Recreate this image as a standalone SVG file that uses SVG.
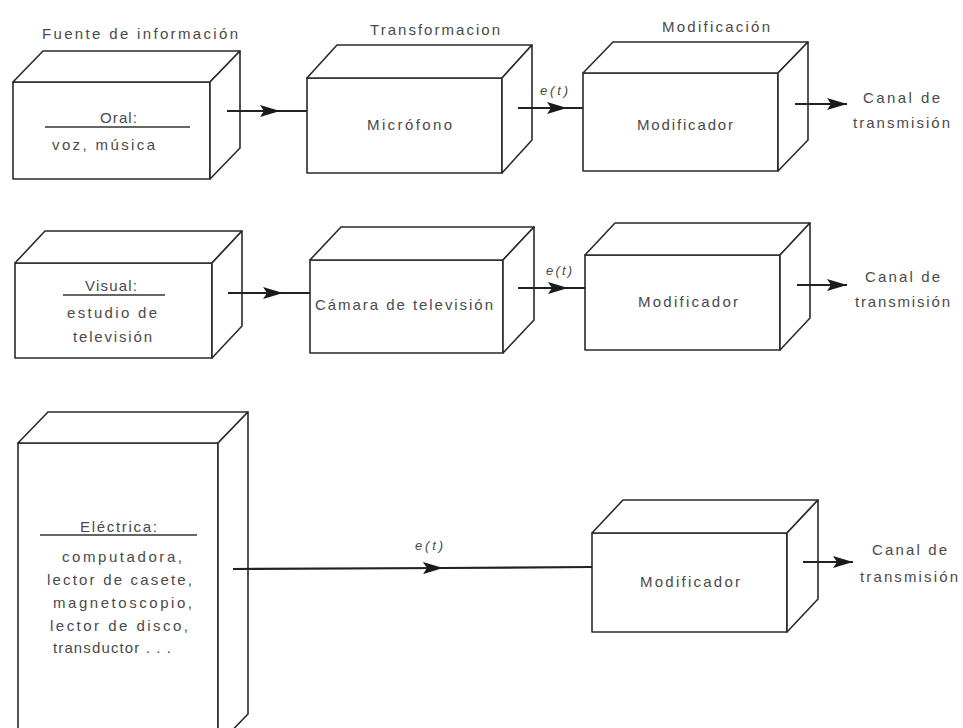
<svg xmlns="http://www.w3.org/2000/svg" width="963" height="728" viewBox="0 0 963 728">
<defs>
<style>
.box{fill:#fff;stroke:#2a2a2a;stroke-width:1.6;stroke-linejoin:round}
.t{font-family:"Liberation Sans",Arial,sans-serif;font-size:15px;fill:#4a4a4a}
.c{text-anchor:middle}
.e{font-style:italic;font-size:13px}
.ul{stroke:#333;stroke-width:1.4}
.con{fill:none;stroke:#222;stroke-width:2.2}
</style>
<marker id="ah" viewBox="0 0 20 12" refX="20" refY="6" markerWidth="20" markerHeight="12" markerUnits="userSpaceOnUse" orient="auto">
<path d="M0,0 L20,6 L0,12 L4,6 Z" fill="#1a1a1a"/>
</marker>
</defs>
<rect width="963" height="728" fill="#fff"/>

<text class="t" x="42" y="39" textLength="196" lengthAdjust="spacing">Fuente de información</text>
<text class="t" x="370" y="35" textLength="130" lengthAdjust="spacing">Transformacion</text>
<text class="t" x="662" y="32" textLength="108" lengthAdjust="spacing">Modificación</text>

<g id="oral">
<rect class="box" x="13" y="82" width="197" height="97"/>
<polygon class="box" points="13,82 43,51 240,51 210,82"/>
<polygon class="box" points="210,82 240,51 240,148 210,179"/>
<text class="t" x="100" y="123" textLength="37" lengthAdjust="spacing">Oral:</text>
<line class="ul" x1="45" y1="127" x2="190" y2="127"/>
<text class="t" x="52" y="150" textLength="103" lengthAdjust="spacing">voz, música</text>
</g>

<g id="microfono">
<rect class="box" x="307" y="78" width="195" height="95"/>
<polygon class="box" points="307,78 337,45 532,45 502,78"/>
<polygon class="box" points="502,78 532,45 532,140 502,173"/>
<text class="t" x="367" y="130" textLength="85" lengthAdjust="spacing">Micrófono</text>
</g>

<g id="modificador1">
<rect class="box" x="583" y="73" width="195" height="98"/>
<polygon class="box" points="583,73 613,42 808,42 778,73"/>
<polygon class="box" points="778,73 808,42 808,140 778,171"/>
<text class="t" x="637" y="130" textLength="96" lengthAdjust="spacing">Modificador</text>
</g>
<g id="canal1">
<text class="t" x="863" y="103" textLength="77" lengthAdjust="spacing">Canal de</text>
<text class="t" x="853" y="128" textLength="97" lengthAdjust="spacing">transmisión</text>
</g>

<g id="visual">
<rect class="box" x="15" y="263" width="197" height="95"/>
<polygon class="box" points="15,263 45,231 242,231 212,263"/>
<polygon class="box" points="212,263 242,231 242,326 212,358"/>
<text class="t" x="85" y="291" textLength="52" lengthAdjust="spacing">Visual:</text>
<line class="ul" x1="63" y1="295" x2="165" y2="295"/>
<text class="t" x="67" y="318" textLength="90" lengthAdjust="spacing">estudio de</text>
<text class="t" x="73" y="342" textLength="79" lengthAdjust="spacing">televisión</text>
</g>

<g id="camara">
<rect class="box" x="310" y="260" width="193" height="93"/>
<polygon class="box" points="310,260 341,227 534,227 503,260"/>
<polygon class="box" points="503,260 534,227 534,320 503,353"/>
<text class="t" x="315" y="310" textLength="178" lengthAdjust="spacing">Cámara de televisión</text>
</g>

<g id="modificador2">
<rect class="box" x="585" y="255" width="195" height="95"/>
<polygon class="box" points="585,255 615,223 810,223 780,255"/>
<polygon class="box" points="780,255 810,223 810,318 780,350"/>
<text class="t" x="638" y="307" textLength="100" lengthAdjust="spacing">Modificador</text>
</g>
<g id="canal2">
<text class="t" x="865" y="282" textLength="75" lengthAdjust="spacing">Canal de</text>
<text class="t" x="855" y="307" textLength="95" lengthAdjust="spacing">transmisión</text>
</g>

<g id="electrica">
<rect class="box" x="18" y="443" width="200" height="302"/>
<polygon class="box" points="18,443 48,412 248,412 218,443"/>
<polygon class="box" points="218,443 248,412 248,714 218,745"/>
<text class="t" x="80" y="532" textLength="77" lengthAdjust="spacing">Eléctrica:</text>
<line class="ul" x1="40" y1="535" x2="197" y2="535"/>
<text class="t" x="62" y="562" textLength="120" lengthAdjust="spacing">computadora,</text>
<text class="t" x="47" y="585" textLength="145" lengthAdjust="spacing">lector de casete,</text>
<text class="t" x="53" y="608" textLength="139" lengthAdjust="spacing">magnetoscopio,</text>
<text class="t" x="50" y="631" textLength="138" lengthAdjust="spacing">lector de disco,</text>
<text class="t" x="53" y="653" textLength="118" lengthAdjust="spacing">transductor . . .</text>
</g>

<g id="modificador3">
<rect class="box" x="592" y="533" width="195" height="99"/>
<polygon class="box" points="592,533 623,500 818,500 787,533"/>
<polygon class="box" points="787,533 818,500 818,599 787,632"/>
<text class="t" x="640" y="587" textLength="100" lengthAdjust="spacing">Modificador</text>
</g>
<g id="canal3">
<text class="t" x="872" y="555" textLength="75" lengthAdjust="spacing">Canal de</text>
<text class="t" x="860" y="582" textLength="98" lengthAdjust="spacing">transmisión</text>
</g>

<g id="connectors">
<path class="con" d="M227,111 L280,111 L307,111" marker-mid="url(#ah)"/>
<path class="con" d="M518,108 L567,108 L583,108" marker-mid="url(#ah)"/>
<path class="con" d="M795,104 L847,104" marker-end="url(#ah)"/>
<text class="t e" x="540" y="95" textLength="28" lengthAdjust="spacing">e(t)</text>

<path class="con" d="M228,293 L283,293 L310,293" marker-mid="url(#ah)"/>
<path class="con" d="M518,288 L568,288 L585,288" marker-mid="url(#ah)"/>
<path class="con" d="M797,285 L847,285" marker-end="url(#ah)"/>
<text class="t e" x="546" y="275" textLength="26" lengthAdjust="spacing">e(t)</text>

<path class="con" d="M233,569 L443,568 L592,567" marker-mid="url(#ah)"/>
<path class="con" d="M803,562 L853,562" marker-end="url(#ah)"/>
<text class="t e" x="415" y="550" textLength="28" lengthAdjust="spacing">e(t)</text>
</g>
</svg>
